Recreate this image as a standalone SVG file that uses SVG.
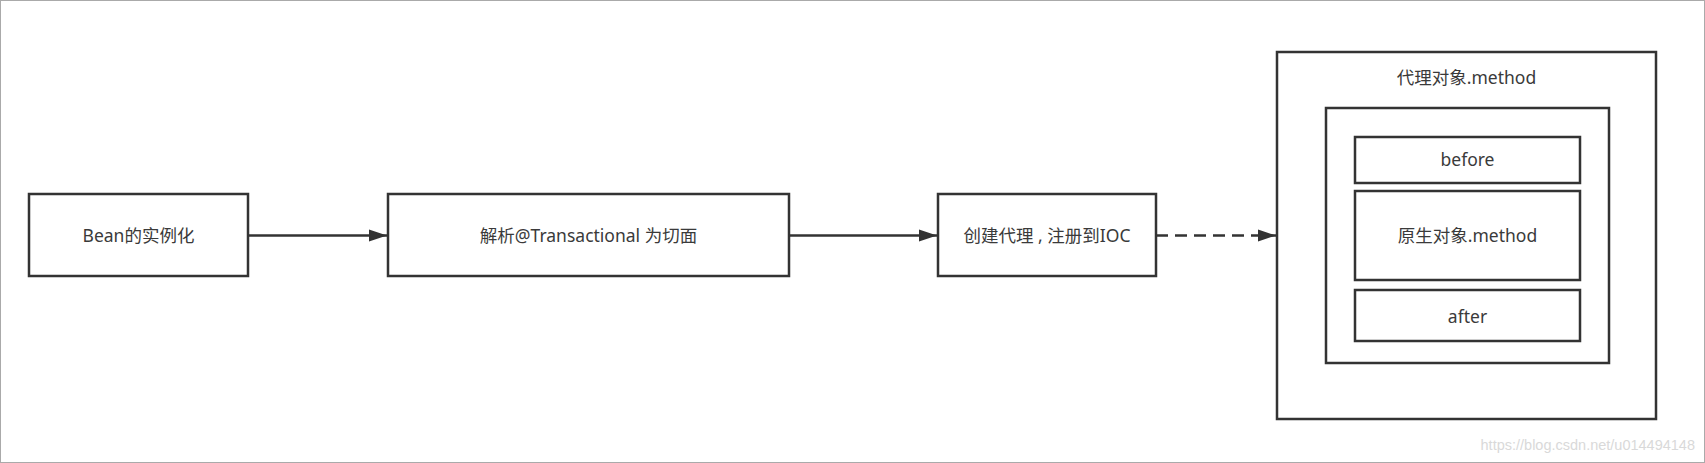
<svg xmlns="http://www.w3.org/2000/svg" width="1705" height="463" viewBox="0 0 1705 463">
<style>
.box{fill:#fff;stroke:#333;stroke-width:2.5}
.t{font-family:"Noto Sans","Noto Sans CJK SC",sans-serif;font-size:17.5px;fill:#3a3a3a;text-anchor:middle;dominant-baseline:central}
.c{stroke:#333;stroke-width:2.5;fill:none}
</style>
<defs>
<marker id="ah" markerUnits="userSpaceOnUse" markerWidth="18" markerHeight="14" refX="18" refY="7" orient="auto">
<path d="M0,1 L18,7 L0,13 Z" fill="#333"/>
</marker>
</defs>
<rect x="0.5" y="0.5" width="1704" height="462" fill="#fff" stroke="#aaa" stroke-width="1"/>
<g id="n1"><rect class="box" x="29" y="194" width="219" height="82"/><text class="t" x="138.5" y="235">Bean的实例化</text></g>
<g id="n2"><rect class="box" x="388" y="194" width="401" height="82"/><text class="t" x="588.5" y="235">解析@Transactional 为切面</text></g>
<g id="n3"><rect class="box" x="938" y="194" width="218" height="82"/><text class="t" x="1047" y="235">创建代理 , 注册到IOC</text></g>
<g id="proxy"><rect class="box" x="1277" y="52" width="379" height="367"/><text class="t" x="1466.5" y="77">代理对象.method</text></g>
<g id="inner"><rect class="box" x="1326" y="108" width="283" height="255"/></g>
<g id="before"><rect class="box" x="1355" y="137" width="225" height="46"/><text class="t" x="1467.5" y="159">before</text></g>
<g id="orig"><rect class="box" x="1355" y="191" width="225" height="89"/><text class="t" x="1467.5" y="235">原生对象.method</text></g>
<g id="after"><rect class="box" x="1355" y="290" width="225" height="51"/><text class="t" x="1467.5" y="315.5">after</text></g>
<g id="connectors">
<line class="c" x1="248" y1="235.5" x2="387" y2="235.5" marker-end="url(#ah)"/>
<line class="c" x1="789" y1="235.5" x2="937" y2="235.5" marker-end="url(#ah)"/>
<line class="c" x1="1156" y1="235.5" x2="1276" y2="235.5" stroke-dasharray="12 7" marker-end="url(#ah)"/>
</g>
<text x="1695" y="450" font-family="Liberation Sans, Arial, sans-serif" font-size="14.5" fill="#d9d9d9" text-anchor="end">https://blog.csdn.net/u014494148</text>
</svg>
